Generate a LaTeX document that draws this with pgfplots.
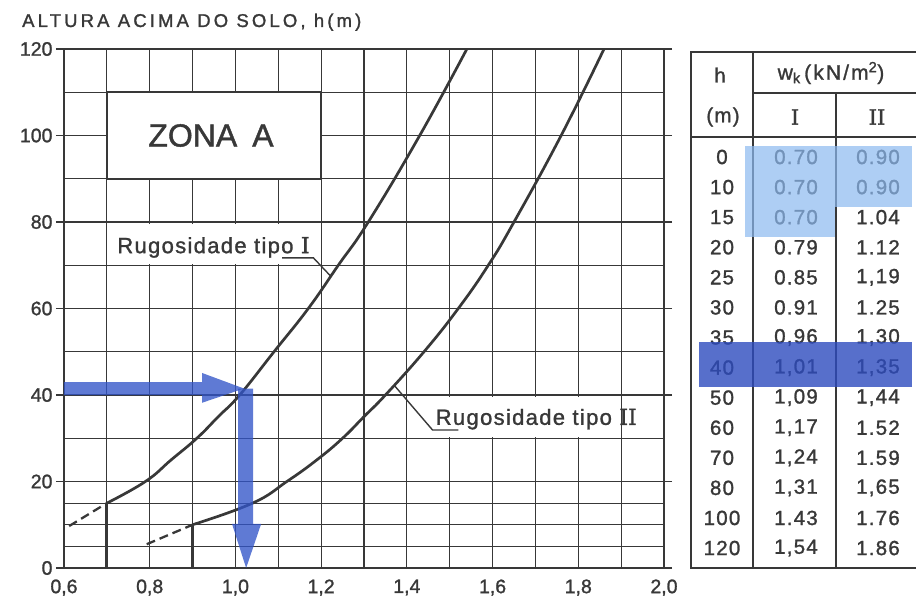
\documentclass[border=0pt]{standalone}
\usepackage{pgfplots}
\pgfplotsset{compat=1.18}
\usepackage{fontspec}
\setmainfont{Liberation Sans}[FakeBold=1.3]
\newfontfamily\romfont{DejaVu Serif}[FakeBold=1.5]
\newfontfamily\titlefont{Liberation Sans}[LetterSpace=17, FakeBold=1.4]
\newfontfamily\labfont{Liberation Sans}[LetterSpace=6, FakeBold=1.3]
\newfontfamily\tabfont{Liberation Sans}[LetterSpace=6, FakeBold=1.3]
\newfontfamily\headfont{Liberation Sans}[LetterSpace=10, FakeBold=1.3]
\definecolor{ink}{HTML}{383838}
\definecolor{arrowblue}{RGB}{50,85,200}
\definecolor{lightblue}{RGB}{140,185,240}
\definecolor{darkblue}{RGB}{45,75,190}
\begin{document}
\begin{tikzpicture}[x=1pt,y=1pt]
\useasboundingbox (-64,-30) rectangle (852,568);
\clip (-64,-30) rectangle (852,568);
\begin{axis}[
  at={(0,0)}, anchor=south west,
  scale only axis, width=600pt, height=519pt,
  xmin=0.6, xmax=2.0, ymin=0, ymax=120,
  xtick={0.6,0.8,1.0,1.2,1.4,1.6,1.8,2.0},
  xticklabels={{0,6},{0,8},{1,0},{1,2},{1,4},{1,6},{1,8},{2,0}},
  minor xtick={0.7,0.9,1.1,1.3,1.5,1.7,1.9},
  ytick={0,20,40,60,80,100,120},
  yticklabels={0,20,40,60,80,100,120},
  minor ytick={5,10,15,30,50,70,90,110},
  grid=both,
  major grid style={ink, line width=1.1pt},
  minor grid style={ink, line width=1.1pt},
  axis line style={ink, line width=2pt},
  tick style={ink, line width=1.5pt},
  xtick style={draw=none},
  minor tick length=0pt,
  major tick length=8pt,
  tick align=outside,
  ticklabel style={font=\fontsize{19.5}{20}\selectfont, text=ink},
]
% white label backgrounds
\fill[white] (axis cs:0.705,70.4) rectangle (axis cs:1.195,79.6);
\fill[white] (axis cs:1.405,30.4) rectangle (axis cs:1.895,39.6);
\draw[ink, line width=2pt, fill=white] (axis cs:0.7,90) rectangle (axis cs:1.2,110);
\node[font=\fontsize{32}{34}\selectfont, text=ink] at (axis cs:0.943,100) {ZONA\hspace{15pt}A};
% curves
\addplot[ink, line width=2.7pt, smooth, tension=0.75] coordinates {(0.70,15)(0.79,20)(0.85,25)(0.91,30)(0.96,35)(1.01,40)(1.09,50)(1.17,60)(1.24,70)(1.31,80)(1.43,100)(1.54,120)};
\addplot[ink, line width=2.7pt, smooth, tension=0.75] coordinates {(0.90,10)(1.04,15)(1.12,20)(1.19,25)(1.25,30)(1.30,35)(1.35,40)(1.44,50)(1.52,60)(1.59,70)(1.65,80)(1.76,100)(1.86,120)};
\addplot[ink, line width=2.3pt, dash pattern=on 9pt off 5pt] coordinates {(0.612,9.7)(0.70,15)};
\addplot[ink, line width=2.3pt, dash pattern=on 9pt off 5pt] coordinates {(0.793,5.5)(0.90,10)};
\addplot[ink, line width=3pt] coordinates {(0.7,0)(0.7,15)};
\addplot[ink, line width=3pt] coordinates {(0.9,0)(0.9,10)};
% labels
\node[anchor=base west, inner sep=0pt, font=\labfont\fontsize{22}{24}\selectfont, text=ink] at (axis cs:0.724,72.8) {Rugosidade tipo {\romfont I}};
\draw[ink, line width=1.4pt] (axis cs:1.109,71.7) -- (axis cs:1.182,71.7) -- (axis cs:1.224,67.3);
\node[anchor=base west, inner sep=0pt, font=\labfont\fontsize{22}{24}\selectfont, text=ink] at (axis cs:1.467,33.1) {Rugosidade tipo {\romfont II}};
\draw[ink, line width=1.4pt] (axis cs:1.52,31.9) -- (axis cs:1.46,31.9) -- (axis cs:1.37,42.3);
% blue arrows
\addplot[draw=none, fill=arrowblue, fill opacity=0.78] coordinates {(0.6,40.0)(0.922,40.0)(0.922,38.2)(1.02,41.5)(0.922,45.1)(0.922,43.0)(0.6,43.0)} -- cycle;
\addplot[draw=none, fill=arrowblue, fill opacity=0.78] coordinates {(1.006,41.5)(1.041,41.5)(1.041,10.2)(1.060,10.2)(1.025,0)(0.992,10.2)(1.006,10.2)} -- cycle;
\end{axis}
% title
\node[anchor=base west, inner sep=0pt, font=\titlefont\fontsize{18.5}{20}\selectfont, text=ink] at (-42,541) {ALTURA ACIMA DO SOLO, h(m)};
% table frame
\begin{scope}[ink, line width=1.8pt]
\draw (870,516) -- (627,516) -- (627,0) -- (870,0);
\draw (689,0) -- (689,516);
\draw (689,475) -- (870,475);
\draw (772,0) -- (772,475);
\draw (627,431) -- (870,431);
\end{scope}
\begin{scope}[font=\tabfont\fontsize{20.5}{22}\selectfont, text=ink]
\node at (656,493) {h};
\node at (659,451) {(m)};
\node[font=\headfont\fontsize{21}{22}\selectfont] at (767,495) {w\textsubscript{k}\,(kN/m\textsuperscript{2})};
\node[font=\romfont\fontsize{21}{22}\selectfont] at (731,451) {I};
\node[font=\romfont\fontsize{21}{22}\selectfont] at (813,451) {II};
\foreach \h/\a/\b [count=\i from 0] in {0/{0.70}/{0.90},10/{0.70}/{0.90},15/{0.70}/{1.04},20/{0.79}/{1.12},25/{0.85}/{1,19},30/{0.91}/{1.25},35/{0,96}/{1,30},40/{1,01}/{1,35},50/{1,09}/{1,44},60/{1,17}/{1.52},70/{1,24}/{1.59},80/{1,31}/{1,65},100/{1.43}/{1.76},120/{1,54}/{1.86}}{
  \node at (658,{411-30.08*\i}) {\h};
  \node at (732,{411-30.08*\i}) {\a};
  \node at (814,{411-30.08*\i}) {\b};
}
\end{scope}
% highlights
\fill[lightblue, opacity=0.7] (681,422) rectangle (848,361);
\fill[lightblue, opacity=0.7] (681,361) rectangle (771,331);
\fill[darkblue, opacity=0.8] (635,226) rectangle (848,181);
\end{tikzpicture}
\end{document}
